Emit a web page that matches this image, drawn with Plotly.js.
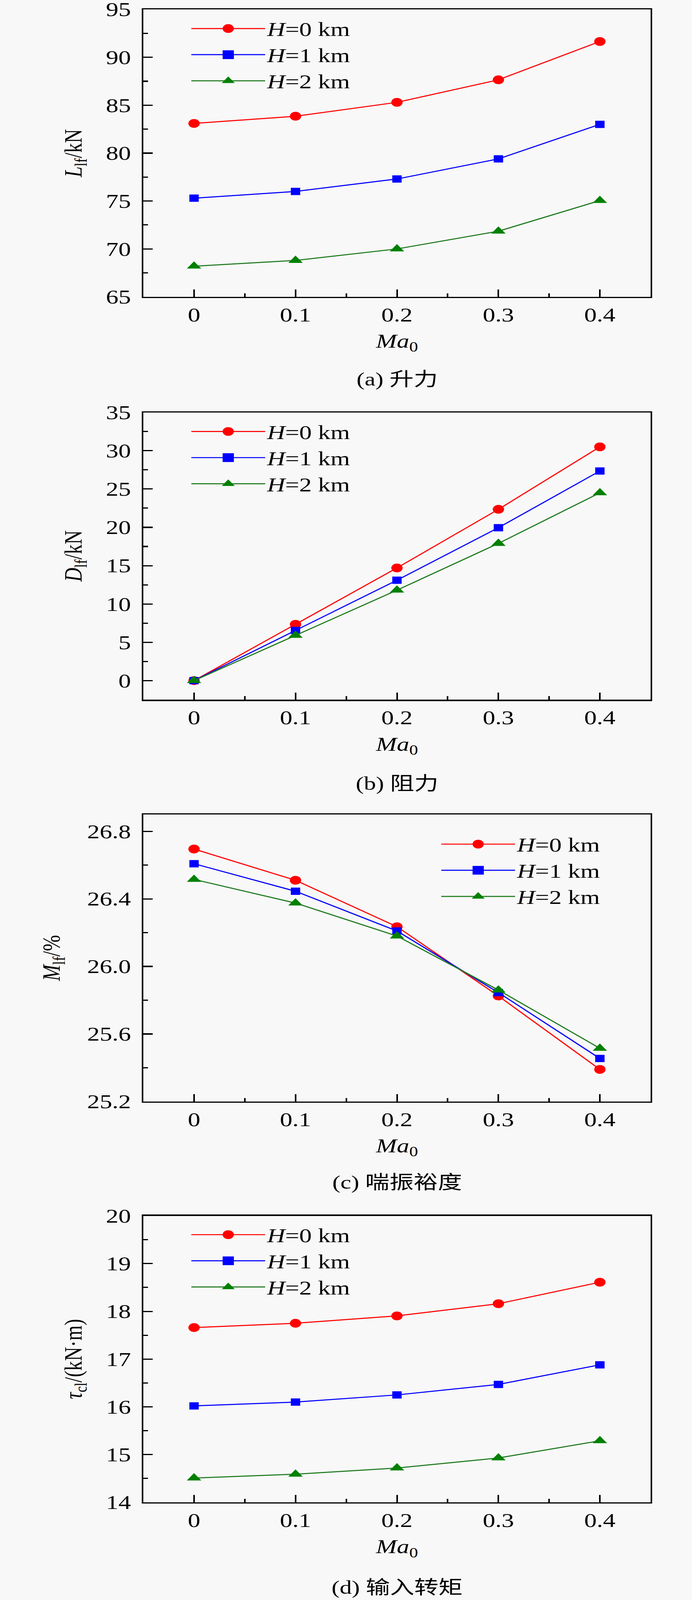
<!DOCTYPE html>
<html>
<head>
<meta charset="utf-8">
<script src="https://cdn.plot.ly/plotly-3.0.1.min.js"></script>
<style>
  html, body { margin: 0; padding: 0; background: #f8f8f8; overflow: hidden; }
  #chart { width: 1772px; height: 5277px; }
</style>
</head>
<body>
<div id="chart"></div>
<script>
// Ma0 values on the x axis
var mach = [0, 0.1, 0.2, 0.3, 0.4];
var seriesNames = ['<i>H</i>=0 km', '<i>H</i>=1 km', '<i>H</i>=2 km'];

// (a) lift, kN
var liftH0 = [83.1, 83.85, 85.3, 87.65, 91.65];
var liftH1 = [75.3, 76.0, 77.3, 79.4, 83.0];
var liftH2 = [68.2, 68.8, 70.0, 71.85, 75.05];

// (b) drag, kN
var dragH0 = [0, 7.35, 14.7, 22.35, 30.5];
var dragH1 = [0, 6.55, 13.1, 19.95, 27.35];
var dragH2 = [0, 5.9, 11.8, 17.9, 24.5];

// (c) surge margin, %
var surgeH0 = [26.695, 26.51, 26.235, 25.825, 25.39];
var surgeH1 = [26.608, 26.445, 26.21, 25.845, 25.455];
var surgeH2 = [26.515, 26.375, 26.18, 25.86, 25.515];

// (d) input torque, kN·m
var torqueH0 = [17.66, 17.75, 17.905, 18.16, 18.61];
var torqueH1 = [16.02, 16.10, 16.25, 16.47, 16.88];
var torqueH2 = [14.51, 14.59, 14.72, 14.93, 15.29];

var captions = ['(a) 升力', '(b) 阻力', '(c) 喘振裕度', '(d) 输入转矩'];

var W = 1772, H = 5277;
var FONT = 'Liberation Serif, "Times New Roman", serif';
var CJK = 'Liberation Serif, "Noto Sans CJK SC", serif';
var lineColors = ['#ff0000', '#0000ff', '#1f7a1f'];
var markerColors = ['#ff0000', '#0000ff', '#008000'];
var symbols = ['circle', 'square', 'triangle-up'];
var sizes = [29, 24, 32];

function py(px) { return 1 - px / H; }

function makeTraces(ys, n, legendId) {
  var sfx = n === 1 ? '' : String(n);
  return ys.map(function (y, i) {
    return {
      x: mach,
      y: y,
      xaxis: 'x' + sfx,
      yaxis: 'y' + sfx,
      mode: 'lines+markers',
      name: seriesNames[i],
      legend: legendId,
      line: { color: lineColors[i], width: 3.5 },
      marker: { symbol: symbols[i], size: sizes[i], color: markerColors[i] }
    };
  });
}

var data = []
  .concat(makeTraces([liftH0, liftH1, liftH2], 1, 'legend'))
  .concat(makeTraces([dragH0, dragH1, dragH2], 2, 'legend2'))
  .concat(makeTraces([surgeH0, surgeH1, surgeH2], 3, 'legend3'))
  .concat(makeTraces([torqueH0, torqueH1, torqueH2], 4, 'legend4'));

// plot boxes in pixels (top, bottom)
var boxes = [[31, 979], [1360, 2308], [2686, 3633], [4010, 4955]];
var xDomain = [367 / W, 1666 / W];

function xAxis(anchor) {
  return {
    domain: xDomain, anchor: anchor,
    range: [-0.05, 0.45], tick0: 0, dtick: 0.1,
    showline: true, linecolor: '#000', linewidth: 4, mirror: true,
    ticks: 'inside', ticklen: 24, tickwidth: 4, tickcolor: '#000',
    minor: { ticks: 'inside', dtick: 0.05, ticklen: 12, tickwidth: 4, tickcolor: '#000' },
    showgrid: false, zeroline: false,
    tickfont: { family: FONT, size: 64, color: '#000' },
    ticklabelstandoff: 0, ticklabeloverflow: 'allow',
    title: { text: '<i>Ma</i><sub>0</sub>', font: { family: FONT, size: 64, color: '#000' }, standoff: 30 }
  };
}

function yAxis(anchor, i, range, dtick, tick0, minorStep, title, standoff, fmt) {
  return {
    domain: [py(boxes[i][1]), py(boxes[i][0])], anchor: anchor,
    range: range, tick0: tick0, dtick: dtick, tickformat: fmt || '',
    showline: true, linecolor: '#000', linewidth: 4, mirror: true,
    ticks: 'inside', ticklen: 24, tickwidth: 4, tickcolor: '#000',
    minor: { ticks: 'inside', dtick: minorStep, ticklen: 12, tickwidth: 4, tickcolor: '#000' },
    showgrid: false, zeroline: false,
    tickfont: { family: FONT, size: 64, color: '#000' },
    ticklabelstandoff: 15, ticklabeloverflow: 'allow',
    title: { text: title, font: { family: FONT, size: 64, color: '#000' }, standoff: standoff }
  };
}

function legendAt(xPx, topPx) {
  return {
    x: xPx / W, y: py(topPx), xanchor: 'left', yanchor: 'top',
    bgcolor: 'rgba(0,0,0,0)', borderwidth: 0,
    itemwidth: 189, tracegroupgap: 0,
    font: { family: FONT, size: 64, color: '#000' }
  };
}

var captionY = [1252, 2585, 3900, 5236];
var annotations = captions.map(function (c, i) {
  return {
    text: c, xref: 'paper', yref: 'paper',
    x: (xDomain[0] + xDomain[1]) / 2, y: py(captionY[i]),
    xanchor: 'center', yanchor: 'middle', showarrow: false,
    font: { family: CJK, size: 62, color: '#000' }
  };
});

var layout = {
  width: W, height: H,
  margin: { l: 0, r: 0, t: 0, b: 0 },
  paper_bgcolor: '#f8f8f8',
  plot_bgcolor: '#f8f8f8',
  showlegend: true,
  xaxis: xAxis('y'),
  xaxis2: xAxis('y2'),
  xaxis3: xAxis('y3'),
  xaxis4: xAxis('y4'),
  yaxis: yAxis('x', 0, [65, 95], 5, 65, 2.5, '<i>L</i><sub>lf</sub>/kN', 42),
  yaxis2: yAxis('x2', 1, [-2.5, 35], 5, 0, 2.5, '<i>D</i><sub>lf</sub>/kN', 42),
  yaxis3: yAxis('x3', 2, [25.2, 26.9], 0.4, 25.2, 0.2, '<i>M</i><sub>lf</sub>/%', 50, '.1f'),
  yaxis4: yAxis('x4', 3, [14, 20], 1, 14, 0.5, '<i>τ</i><sub>cl</sub>/(kN·m)', 42),
  legend: legendAt(485, 46),
  legend2: legendAt(485, 1375),
  legend3: legendAt(1125, 2736),
  legend4: legendAt(485, 4024),
  annotations: annotations
};

var gd = document.getElementById('chart');
Plotly.newPlot(gd, data, layout, { staticPlot: true }).then(function () {
  // legend symbols are capped at 16px by plotly; scale them up to the plot marker size
  gd.querySelectorAll('.legendpoints .scatterpts').forEach(function (p) {
    var t = p.getAttribute('transform') || '';
    p.setAttribute('transform', t + ' scale(1.8)');
  });
  // the browser window may be shorter than the figure: fit it vertically
  var s = Math.min(1, window.innerHeight / H);
  if (s < 1) {
    gd.style.transformOrigin = '0 0';
    gd.style.transform = 'scale(1,' + s + ')';
  }
});
</script>
</body>
</html>
